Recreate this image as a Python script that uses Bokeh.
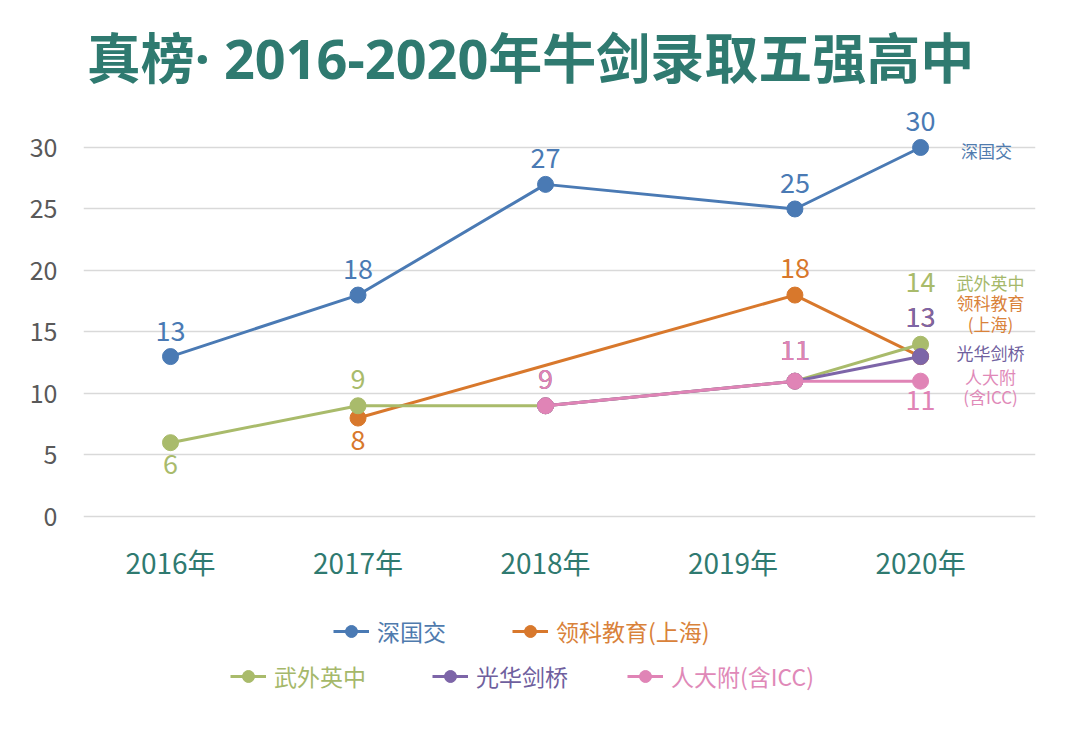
from bokeh.plotting import figure
from bokeh.models import ColumnDataSource, FixedTicker, Label, Legend, LegendItem
from bokeh.core.properties import value
from bokeh.embed import file_html
from bokeh.resources import INLINE

# ---------------- data ----------------
years = ["2016年", "2017年", "2018年", "2019年", "2020年"]
names = ["深国交", "领科教育(上海)", "武外英中", "光华剑桥", "人大附(含ICC)"]
shenguojiao = [13, 18, 27, 25, 30]
lingke = [None, 8, None, 18, 13]
wuwai = [6, 9, 9, 11, 14]
guanghua = [None, None, 9, 11, 13]
renda = [None, None, 9, 11, 11]
y_ticks = [0, 5, 10, 15, 20, 25, 30]
end_names = [["深国交"], ["领科教育", "(上海)"], ["武外英中"], ["光华剑桥"], ["人大附", "(含ICC)"]]
title = "真榜· 2016-2020年牛剑录取五强高中"

# ---------------- styles ----------------
FONT = "Noto Sans CJK SC"
TITLE_FONT = "Noto Sans, Noto Sans CJK SC"
TEAL = "#2f7a70"
colors = ["#4a7ab4", "#d8782c", "#a9bb6b", "#7d65a8", "#e084b6"]
text_colors = ["#4f7bae", "#d9823a", "#a5b86a", "#6f5f9e", "#e089b8"]
x_shift = {"2019年": 0.33}
# screen px, positive = down
label_dy = [
    [-26, -26, -26, -26, -26],
    [None, 22, None, -27, -40],
    [21, -27, -27, -31, -62],
    [None, None, -27, -31, -40],
    [None, None, -27, -31, 19],
]
end_dx = [66, 70, 70, 70, 70]
end_dy = [[3], [-54, -33], [-62], [-4], [-5, 15]]
legend_pos = [(250, 65), (429, 65), (147, 20), (349, 20), (544, 20)]

xpos = [i + x_shift.get(y, 0) for i, y in enumerate(years)]
series = [shenguojiao, lingke, wuwai, guanghua, renda]

p = figure(width=1049, height=713, x_range=(-0.464, 4.613), y_range=(-16.02, 41.95),
           output_backend="svg", toolbar_location=None,
           min_border_left=83, min_border_right=14, min_border_top=0,
           min_border_bottom=0)
p.outline_line_color = None
p.background_fill_color = "white"
p.border_fill_color = "white"
p.xgrid.visible = False
p.ygrid.grid_line_color = "#d9d9d9"
p.ygrid.grid_line_width = 1.5

p.yaxis.ticker = FixedTicker(ticks=y_ticks)
p.xaxis.ticker = FixedTicker(ticks=list(range(len(years))))
p.xaxis.major_label_overrides = {i: y for i, y in enumerate(years)}
p.xaxis.fixed_location = -1
for ax in (p.xaxis[0], p.yaxis[0]):
    ax.axis_line_color = None
    ax.major_tick_line_color = None
    ax.minor_tick_line_color = None
    ax.major_label_text_font = FONT
p.yaxis.major_label_text_font_size = "25px"
p.yaxis.major_label_text_color = "#595959"
p.yaxis.major_label_standoff = 20
p.xaxis.major_label_text_font_size = "28px"
p.xaxis.major_label_text_color = TEAL
p.xaxis.major_label_standoff = 7

# title
p.add_layout(Label(x=1.92, y=37.3, text=title,
                   text_font=TITLE_FONT, text_font_size="54px", text_font_style="bold",
                   text_color=TEAL, text_align="center", text_baseline="middle"))

for k, vals in enumerate(series):
    xs = [xpos[i] for i, v in enumerate(vals) if v is not None]
    ys = [v for v in vals if v is not None]
    dys = [label_dy[k][i] for i, v in enumerate(vals) if v is not None]
    src = ColumnDataSource(dict(x=xs, y=ys, t=[str(v) for v in ys], dy=dys))
    lr = p.line("x", "y", source=src, line_color=colors[k], line_width=3)
    sr = p.scatter("x", "y", source=src, size=16, fill_color=colors[k],
                   line_color=colors[k])
    p.text("x", "y", text="t", source=src, y_offset="dy", text_color=colors[k],
           text_font=value(FONT), text_font_size="27px", text_align="center",
           text_baseline="middle")
    # end annotation (one text per line)
    n = len(end_names[k])
    esrc = ColumnDataSource(dict(x=[xs[-1]] * n, y=[ys[-1]] * n, t=end_names[k],
                                 dy=end_dy[k]))
    p.text("x", "y", text="t", source=esrc, x_offset=end_dx[k], y_offset="dy",
           text_color=text_colors[k], text_font=value(FONT), text_font_size="17px",
           text_align="center", text_baseline="middle")
    leg = Legend(items=[LegendItem(label=names[k], renderers=[lr, sr])],
                 location=legend_pos[k], orientation="horizontal",
                 label_text_color=text_colors[k], label_text_font=FONT,
                 label_text_font_size="23px", glyph_width=36, glyph_height=30,
                 label_height=30, padding=0, margin=0, spacing=0,
                 border_line_color=None, background_fill_alpha=0, label_standoff=8)
    p.add_layout(leg)

open("out.html", "w").write(file_html(p, INLINE))
